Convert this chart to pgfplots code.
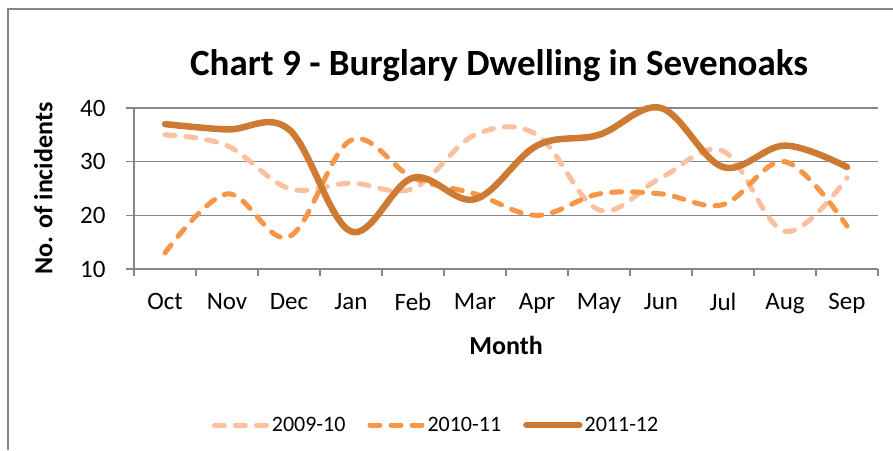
\documentclass[border=0pt]{standalone}
\usepackage{pgfplots}
\pgfplotsset{compat=1.18}
\usepackage{fontspec}
\setmainfont{Carlito}
\definecolor{cA}{RGB}{250,192,160}
\definecolor{cB}{RGB}{247,150,70}
\definecolor{cC}{RGB}{205,122,52}
\definecolor{gridc}{RGB}{134,134,134}
\begin{document}
\begin{tikzpicture}[x=1pt,y=1pt]
\useasboundingbox (0,0) rectangle (893,450);
\draw[gridc,line width=1.2pt] (8,0) -- (8,441) -- (893,441);
\node[anchor=base,font=\fontsize{37}{44}\selectfont\bfseries] at (499,374) {Chart 9 - Burglary Dwelling in Sevenoaks};
\begin{axis}[
  at={(134pt,181pt)}, anchor=south west,
  scale only axis, width=744pt, height=161pt,
  xmin=-0.5, xmax=11.5, ymin=10, ymax=40,
  axis x line=bottom, axis y line=left,
  axis line style={-, gridc, line width=1.5pt},
  xtick={0,...,11},
  xticklabels={Oct,Nov,Dec,Jan,Feb,Mar,Apr,May,Jun,Jul,Aug,Sep},
  minor xtick={-0.5,0.5,...,11.5},
  ytick={10,20,30,40},
  tick align=outside,
  major x tick style={draw=none},
  minor tick length=7pt,
  major tick length=8pt,
  every tick/.style={gridc, line width=1.5pt},
  ymajorgrids,
  major grid style={gridc, line width=1.5pt},
  /pgf/number format/assume math mode=true,
  tick label style={font=\fontsize{25}{30}\selectfont},
  yticklabel style={xshift=-17pt},
  xticklabel style={yshift=-13pt},
  xlabel={\bfseries Month},
  ylabel={\bfseries No. of incidents},
  label style={font=\fontsize{26}{31}\selectfont},
  xlabel style={at={(axis description cs:0.5,-0.472)}, anchor=center},
  ylabel style={at={(axis description cs:-0.122,0.5)}, anchor=center},
  legend style={at={(0.406,-0.969)}, anchor=center, draw=none, fill=none,
    legend columns=3, font=\fontsize{22}{26}\selectfont,
    /tikz/every even column/.append style={column sep=20pt}},
  legend image code/.code={\draw[#1] (0pt,0pt) -- (53pt,0pt);},
  clip=false,
]
\addplot[cA, line width=5pt, line cap=round, dash pattern=on 10pt off 11pt, smooth, tension=0.6]
  coordinates {(0,35)(1,33)(2,25)(3,26)(4,25)(5,35)(6,35)(7,21)(8,27)(9,32)(10,17)(11,27)};
\addlegendentry{2009-10}
\addplot[cB, line width=5pt, line cap=round, dash pattern=on 10pt off 11pt, smooth, tension=0.6]
  coordinates {(0,13)(1,24)(2,16)(3,34)(4,27)(5,24)(6,20)(7,24)(8,24)(9,22)(10,30)(11,18)};
\addlegendentry{2010-11}
\addplot[cC, line width=6.5pt, line cap=round, smooth, tension=0.6]
  coordinates {(0,37)(1,36)(2,36)(3,17)(4,27)(5,23)(6,33)(7,35)(8,40)(9,29)(10,33)(11,29)};
\addlegendentry{2011-12}
\end{axis}
\end{tikzpicture}
\end{document}
